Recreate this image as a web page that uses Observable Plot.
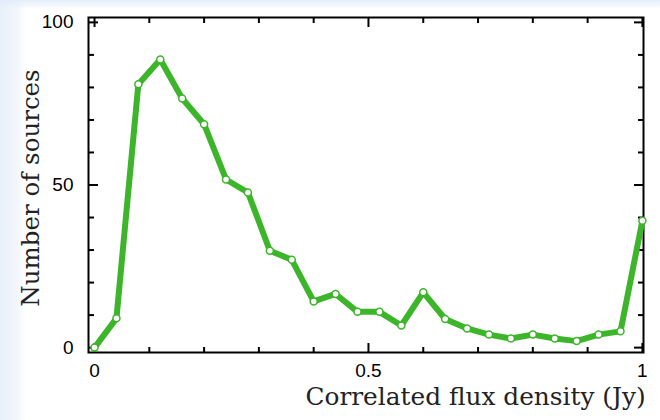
<!DOCTYPE html>
<html>
<head>
<meta charset="utf-8">
<script src="https://cdn.jsdelivr.net/npm/d3@7"></script>
<script src="https://cdn.jsdelivr.net/npm/@observablehq/plot@0.6"></script>
<style>
  html, body { margin: 0; padding: 0; }
  body {
    width: 660px; height: 420px; overflow: hidden;
    background:
      linear-gradient(to bottom, rgba(225,236,250,0.9) 0px, rgba(255,255,255,0) 9px),
      linear-gradient(to right, #e8f0fa 0px, #f3f7fc 18px, #ffffff 26px);
  }
  #chart svg { display: block; }
</style>
</head>
<body>
<div id="chart"></div>
<script>
// Data
const flux = [0, 0.04, 0.08, 0.12, 0.16, 0.20, 0.24, 0.28, 0.32, 0.36, 0.40, 0.44, 0.48,
              0.52, 0.56, 0.60, 0.64, 0.68, 0.72, 0.76, 0.80, 0.84, 0.88, 0.92, 0.96, 1.00];
const sources = [0, 9, 81, 88.6, 76.6, 68.7, 51.7, 47.7, 29.8, 27, 14.2, 16.5, 11,
                 11, 6.8, 17, 8.8, 5.9, 4, 2.8, 4, 2.8, 2, 4, 5, 39];

const xMajorTicks = [0, 0.5, 1];
const xMinorTicks = [0.1, 0.2, 0.3, 0.4, 0.6, 0.7, 0.8, 0.9];
const yMajorTicks = [0, 50, 100];
const yMinorTicks = [10, 20, 30, 40, 60, 70, 80, 90];
const xTickLabels = ["0", "0.5", "1"];
const yTickLabels = ["0", "50", "100"];
const xTitle = "Correlated flux density (Jy)";
const yTitle = "Number of sources";

const data = flux.map((x, i) => ({x, y: sources[i]}));
const green = "#3cb52a";
const tickFont = "Liberation Sans, Arial, sans-serif";
const titleFont = "DejaVu Serif, serif";

const plot = Plot.plot({
  width: 660,
  height: 420,
  marginLeft: 88,
  marginRight: 17,
  marginTop: 17,
  marginBottom: 68,
  style: {background: "transparent", color: "#000", fontFamily: tickFont},
  x: {domain: [-0.011, 1.002], label: null},
  y: {domain: [-1.5, 101.5], label: null},
  marks: [
    // inward tick marks on all four sides
    Plot.axisX(xMinorTicks, {anchor: "bottom", tickSize: -5, text: null, label: null, strokeWidth: 2}),
    Plot.axisX(xMajorTicks, {anchor: "bottom", tickSize: -9, text: null, label: null, strokeWidth: 2}),
    Plot.axisX(xMinorTicks, {anchor: "top", tickSize: -5, text: null, label: null, strokeWidth: 2}),
    Plot.axisX(xMajorTicks, {anchor: "top", tickSize: -9, text: null, label: null, strokeWidth: 2}),
    Plot.axisY(yMinorTicks, {anchor: "left", tickSize: -6, text: null, label: null, strokeWidth: 2}),
    Plot.axisY(yMajorTicks, {anchor: "left", tickSize: -10, text: null, label: null, strokeWidth: 2}),
    Plot.axisY(yMinorTicks, {anchor: "right", tickSize: -6, text: null, label: null, strokeWidth: 2}),
    Plot.axisY(yMajorTicks, {anchor: "right", tickSize: -10, text: null, label: null, strokeWidth: 2}),
    // tick labels
    Plot.axisX(xMajorTicks, {anchor: "bottom", tickSize: 0, tickPadding: 11, label: null,
      tickFormat: (d, i) => xTickLabels[i], fontSize: 19, fill: "#000", stroke: "#000", strokeWidth: 0.3}),
    Plot.axisY(yMajorTicks, {anchor: "left", tickSize: 0, tickPadding: 15, label: null,
      tickFormat: (d, i) => yTickLabels[i], fontSize: 19, fill: "#000", stroke: "#000", strokeWidth: 0.3}),
    // frame
    Plot.frame({stroke: "#000", strokeWidth: 2}),
    // data
    Plot.line(data, {x: "x", y: "y", stroke: green, strokeWidth: 6, strokeLinejoin: "round"}),
    Plot.dot(data, {x: "x", y: "y", r: 3.5, fill: "#fff", stroke: green, strokeWidth: 1.5}),
    // titles
    Plot.text([xTitle], {text: d => d, frameAnchor: "bottom-left", textAnchor: "start", lineAnchor: "middle",
      dy: 45, dx: 217, fontFamily: titleFont, fontSize: 24.8, fill: "#222"}),
    Plot.text([yTitle], {text: d => d, frameAnchor: "left", textAnchor: "middle", lineAnchor: "middle",
      rotate: -90, dx: -57, dy: 3, fontFamily: titleFont, fontSize: 24.5, fill: "#222"})
  ]
});
document.getElementById("chart").appendChild(plot);
</script>
</body>
</html>
